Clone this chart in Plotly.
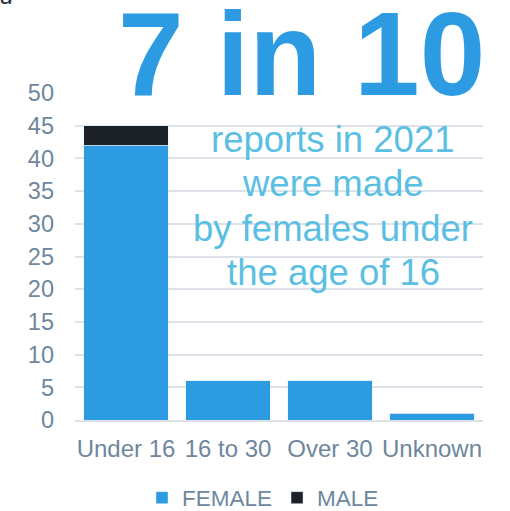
import plotly.graph_objects as go

categories = ["Under 16", "16 to 30", "Over 30", "Unknown"]
female = [42, 6, 6, 1]
male = [3, 0, 0, 0]
y_ticks = [0, 5, 10, 15, 20, 25, 30, 35, 40, 45, 50]
headline = "7 in 10"
sub_lines = ["reports in 2021", "were made", "by females under", "the age of 16"]

font_family = "Liberation Sans, Arial, sans-serif"
tick_color = "#6E879E"

# plot area geometry in pixels
H = 511
M_T, M_B, M_L, M_R = 93, 91, 75, 27
PH = H - M_T - M_B
PW = 510 - M_L - M_R


def py(pix):
    return (H - M_B - pix) / PH


def px(pix):
    return (pix - M_L) / PW


fig = go.Figure()
fig.add_trace(go.Bar(x=categories, y=female, name="FEMALE", marker_color="#2D9BE1"))
fig.add_trace(go.Bar(x=categories, y=male, name="MALE", marker_color="#1D2228"))

fig.update_layout(
    width=510, height=511,
    barmode="stack", bargap=0.17,
    plot_bgcolor="white", paper_bgcolor="white",
    margin=dict(l=M_L, r=M_R, t=M_T, b=M_B, autoexpand=False),
    font=dict(family=font_family, color=tick_color, size=23),
    xaxis=dict(showgrid=False, showline=True, linecolor="#DDE2E8", linewidth=2,
               tickfont=dict(size=24, color=tick_color), ticks="", automargin=False,
               ticklabelstandoff=6),
    yaxis=dict(range=[0, 50], tickvals=y_ticks, showgrid=True, gridcolor="#DDE2E8",
               gridwidth=2, zeroline=False, tickfont=dict(size=23.5, color=tick_color),
               ticklabelstandoff=20, automargin=False),
    legend=dict(orientation="h", x=px(263), xanchor="center", y=py(498), yanchor="middle",
                font=dict(size=22.5, color=tick_color), itemwidth=30, traceorder="normal"),
    showlegend=True,
)

fig.add_annotation(x=px(301), y=py(54), xref="paper", yref="paper", text="<b>" + headline + "</b>",
                   showarrow=False, font=dict(size=118, color="#2D9BE1", family=font_family),
                   xanchor="center", yanchor="middle")
for line, pix in zip(sub_lines, [139, 183.5, 228, 272.5]):
    fig.add_annotation(x=px(333), y=py(pix), xref="paper", yref="paper", text=line,
                       showarrow=False, font=dict(size=36.5, color="#5BBFE3", family=font_family),
                       xanchor="center", yanchor="middle")
fig.add_annotation(x=px(-2), y=py(11), xref="paper", yref="paper", text="<i>d</i>",
                   showarrow=False, font=dict(size=24, color="#2B3440", family=font_family),
                   xanchor="left", yanchor="bottom")

fig.write_html("out.html", post_script="document.body.style.margin='0';",
               config={"displayModeBar": False})
